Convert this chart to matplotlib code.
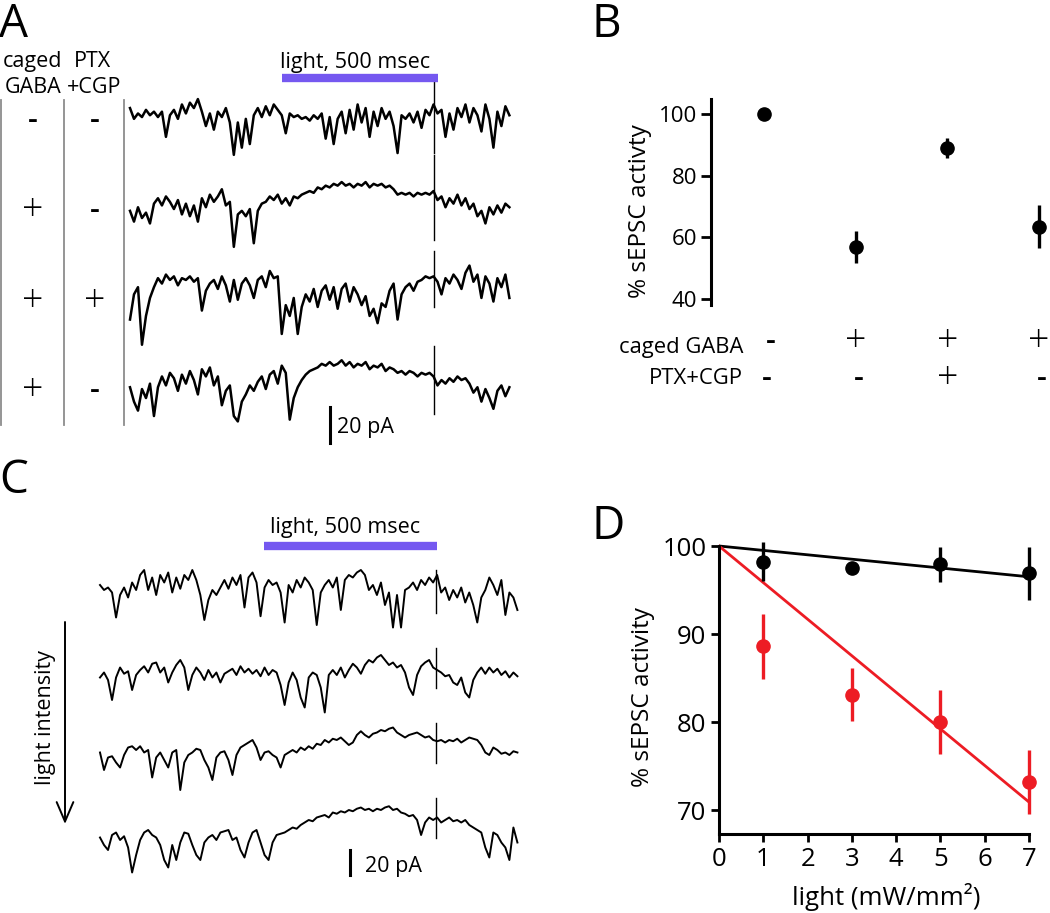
import numpy as np
import matplotlib.pyplot as plt
from matplotlib import transforms

plt.rcParams['font.family'] = ['Open Sans', 'DejaVu Sans']

# ---- data ----
# panel A: example sEPSC traces (pA, relative to each trace's baseline), one sample per ~12.8 ms
dt_a = 0.0128
trace_a_ctrl = [0, -6, -3, -5, -1, -4, -2, -5, -2, -16, -4, -1, -6, 2, -3, 3, 0, 5, -2, -10,
                -3, -12, -2, -5, 0, -8, -26, -8, -22, -6, -20, -4, 0, -5, 1, -4, 2, -1, -4, -14,
                -3, -5, -4, -6, -5, -7, -4, -6, -3, -17, -5, -20, -6, -2, -14, -1, -12, 2, -8, 0,
                -16, -2, -10, 0, -6, -2, -10, -25, -4, -6, -3, -8, -2, -11, -1, -4, 2, -3, -1, -16,
                -3, -12, 0, -5, 2, -8, 0, -4, -13, 2, -6, -22, -2, -10, 1, -4]
trace_a_gaba = [-6, -12, -4, -10, -7, -13, -2, 1, -3, 2, -1, -5, 0, -8, -2, -9, -3, -12, 1, -4,
                3, -1, 2, 6, -3, -1, -26, -8, -6, -9, -5, -24, -6, -2, -1, 2, 0, 3, -2, 1,
                -3, 2, 1, 3, 4, 5, 4, 7, 6, 8, 7, 9, 8, 10, 8, 9, 7, 9, 8, 10,
                7, 9, 8, 9, 7, 8, 6, 3, 4, 3, 4, 2, 4, 3, 4, 3, 5, 0, 2, -4,
                1, -2, 3, -3, 1, -5, -2, -9, -6, -13, -4, -8, -3, -7, -2, -4]
trace_a_ptx = [-22, -8, -4, -36, -20, -10, -4, 1, -2, 3, 0, 2, -3, 1, 0, 2, -1, 1, -17, -6,
               -2, 0, -5, 2, -3, -12, 0, -11, -2, 1, -3, -10, 0, 2, -4, 5, 1, 2, -30, -14,
               -20, -10, -30, -15, -8, -12, -5, -15, -6, -3, -11, -4, -16, -5, -2, -12, -4, -8, -14, -9,
               -20, -16, -24, -13, -15, -6, -2, -22, -8, -4, -2, -6, -1, 0, 2, 1, 2, -1, -8, 1,
               -2, 3, 0, -5, 4, 8, -1, 3, -10, 2, -2, -12, 1, -4, 3, -10]
trace_a_gaba2 = [-4, -12, -17, -5, -10, -2, -20, -4, 2, -3, 4, 1, -6, 3, -2, 5, 0, -8, 6, 2,
                 7, -3, 2, -14, -6, -3, -20, -23, -12, -8, -3, -6, -1, 2, -5, 3, 5, -2, 8, 4,
                 -22, -10, -4, 0, 3, 5, 6, 7, 9, 8, 10, 8, 9, 11, 8, 10, 7, 9, 8, 10,
                 6, 8, 7, 9, 5, 7, 6, 4, 5, 3, 5, 4, 2, 4, 3, 4, 2, -3, 0, -2,
                 1, -1, 2, 0, 1, -2, -7, -4, -12, -5, -10, -16, -6, -3, -9, -4]
traces_a = [trace_a_ctrl, trace_a_gaba, trace_a_ptx, trace_a_gaba2]
light_a = [0.487, 0.987]
artifact_a = 0.974
caged_a = ['-', '+', '+', '+']
ptx_a = ['-', '-', '+', '-']

# panel B
b_caged = ['-', '+', '+', '+']
b_ptx = ['-', '-', '+', '-']
b_mean = [100, 57, 89, 63.5]
b_err = [0.8, 5.2, 3.2, 7.0]

# panel C: traces at increasing light intensity, one sample per ~11.6 ms
dt_c = 0.0116
trace_c1 = [0, -4, -2, -6, -26, -8, -2, -10, 2, -4, 8, 12, -4, 6, -8, 8, 2, 10, -6, 6,
            -3, 8, 4, 12, 4, -8, -28, -12, -4, -8, -2, 4, -3, 6, 0, 8, -18, 6, 10, 2,
            -25, -2, 4, 0, 2, -6, -30, 0, -6, 4, -2, 6, 2, -4, -32, -6, 0, 4, -2, 6,
            -20, 4, 8, 6, 10, 12, 8, -4, 0, -8, 2, -16, -6, -34, -8, -34, -4, -2, 2, -4,
            4, 0, 6, 2, 8, -6, -2, -12, -4, -10, -2, -14, -6, -16, -30, -10, -4, 6, 0, -8,
            4, -24, -6, -10, -20]
trace_c2 = [-6, -2, -8, -24, -6, 2, -3, -1, -16, -4, 0, 3, -2, 5, 6, -2, 2, -10, -2, 4,
            8, 2, -16, -4, 2, -2, -8, 0, -6, -2, -10, -3, -1, 1, -4, 3, -2, 1, -3, 0,
            -5, 2, -4, 0, -2, -12, -28, -10, -2, -8, -22, -30, -6, -2, -4, -14, -34, -4, 0, -4,
            2, -6, 0, 5, 2, -3, 4, 8, 6, 10, 12, 8, 4, 6, 2, 4, -2, -14, -20, -4,
            3, 6, 8, 2, 0, -2, -5, -4, -10, -12, -6, -18, -22, -8, -2, 2, -3, 2, -2, 1,
            -4, -1, -6, -2, -5]
trace_c3 = [-2, -16, -6, -5, -10, -14, -4, 2, 3, 0, 3, -2, 0, -22, -6, -2, -8, -14, -2, 0,
            -32, -10, -4, -2, 1, 0, -8, -14, -24, -6, -2, -1, -8, -20, -4, 2, 4, 6, 8, 2,
            -8, -2, -1, -4, -6, -14, -4, -2, 0, -2, 2, 0, 3, 1, 5, 4, 8, 6, 9, 8,
            10, 7, 4, 6, 12, 15, 12, 10, 13, 14, 16, 15, 17, 18, 14, 12, 10, 12, 13, 14,
            12, 10, 11, 8, 7, 8, 6, 8, 7, 9, 6, 8, 10, 9, 8, 4, -2, -4, 2, 0,
            -3, -2, -4, -1, -2]
trace_c4 = [-2, -8, -12, 0, 2, -4, -1, -10, -30, -16, -4, 2, 4, 0, -2, -8, -20, -26, -8, -20,
            -6, 2, 1, -8, -16, -20, -6, -2, 0, -4, 2, 3, 4, -4, -2, -12, -18, -6, 2, 4,
            -6, -16, -20, -6, 0, 1, 2, 4, 6, 5, 8, 10, 12, 11, 14, 15, 16, 14, 18, 17,
            19, 18, 20, 19, 21, 22, 20, 21, 19, 21, 20, 22, 23, 20, 21, 18, 17, 15, 16, 12,
            0, 10, 14, 12, 14, 10, 12, 14, 11, 12, 10, 12, 8, 6, 4, 2, -10, -18, 2, 0,
            -6, -10, -20, 6, -6]
traces_c = [trace_c1, trace_c2, trace_c3, trace_c4]
light_c = [0.474, 0.974]
artifact_c = 0.971

# panel D
light_power = [1, 3, 5, 7]
saline_mean = [98.2, 97.5, 97.9, 96.9]
saline_err = [2.2, 0.0, 2.0, 3.0]
caged_mean = [88.6, 83.1, 80.0, 73.2]
caged_err = [3.7, 3.0, 3.6, 3.6]
fit_x = [0, 7]
saline_fit = [100, 96.5]
caged_fit = [100, 70.9]

# ---- layout ----
W, H = 1050, 913
fig = plt.figure(figsize=(W / 100, H / 100), dpi=100)
RED = '#ED1C24'
PURPLE = '#7558F0'


def box(x0, y0, x1, y1):
    return fig.add_axes([x0 / W, 1 - y1 / H, (x1 - x0) / W, (y1 - y0) / H])


def sign(x, y, s, **kw):
    # plus signs in the table are big and thin, minus signs are short dashes
    if s == '+':
        ov.text(x, y, s, fontsize=27, ha='center', va='center', fontweight='light', **kw)
    else:
        ov.text(x, y, s, fontsize=22, ha='center', va='center', fontweight='semibold', **kw)


ov = fig.add_axes([0, 0, 1, 1])
ov.set_xlim(0, W)
ov.set_ylim(H, 0)
ov.axis('off')

# panel letters
ov.text(-1, 37, 'A', fontsize=33, va='baseline', ha='left')
ov.text(591, 37, 'B', fontsize=33, va='baseline', ha='left')
ov.text(-1, 493, 'C', fontsize=33, va='baseline', ha='left')
ov.text(591, 539, 'D', fontsize=33, va='baseline', ha='left')

# ---- A ----
fs = 15.5
ov.text(33, 67, 'caged', fontsize=fs, ha='center', va='baseline')
ov.text(33, 93, 'GABA', fontsize=fs, ha='center', va='baseline')
ov.text(92, 67, 'PTX', fontsize=fs, ha='center', va='baseline')
ov.text(94, 93, '+CGP', fontsize=fs, ha='center', va='baseline')
for xs in [1, 64, 124]:
    ov.plot([xs, xs], [100, 425], color='#8c8c8c', lw=1.3)
rows_a = [121, 211, 302, 391]
for yr, c, p in zip(rows_a, caged_a, ptx_a):
    sign(33, yr, c)
    sign(95, yr, p)

axA = box(130, 60, 512, 450)
axA.set_xlim(0, 382 / 312)
axA.set_ylim(-390 / 1.8, 0)
axA.axis('off')
offs_a = [-26.7, -77.8, -122.2, -177.8]
art_a = [(17, -25), (25, -22), (16, -15), (19, -19)]
for tr, off, (up, dn) in zip(traces_a, offs_a, art_a):
    t = np.arange(len(tr)) * dt_a
    axA.plot(t, np.array(tr) + off, color='k', lw=1.8, clip_on=False)
    axA.plot([artifact_a, artifact_a], [off + up, off + dn], color='k', lw=1.0)
axA.plot(light_a, [-10, -10], color=PURPLE, lw=6, solid_capstyle='butt')
axA.text(np.mean(light_a) - 0.015, -4.5, 'light, 500 msec', fontsize=fs, ha='center', va='baseline')
axA.plot([0.641, 0.641], [-192.8, -212.8], color='k', lw=2.2, clip_on=False)
ov.text(337, 433, '20 pA', fontsize=fs, ha='left', va='baseline')

# ---- B ----
axB = box(711, 99, 1050, 305)
xb = np.arange(len(b_mean))
axB.errorbar(xb, b_mean, yerr=b_err, fmt='o', color='k', ms=9.5, elinewidth=2.4,
             capsize=0, clip_on=False)
axB.set_xlim(-0.578, 3.12)
axB.set_ylim(38.05, 104.9)
axB.set_yticks([40, 60, 80, 100])
for s in ['top', 'right', 'bottom']:
    axB.spines[s].set_visible(False)
axB.spines['left'].set_linewidth(2.2)
axB.tick_params(axis='y', direction='out', length=7, width=2, labelsize=16, pad=3)
axB.set_xticks([])
ov.text(640, 211, '% sEPSC activty', fontsize=17.5, rotation=90, ha='center', va='center')
ov.text(743, 347, 'caged GABA', fontsize=15.8, ha='right', va='center')
ov.text(743, 378, 'PTX+CGP', fontsize=15.8, ha='right', va='center')
tb = transforms.blended_transform_factory(axB.transData, ov.transData)
for xi, c, p in zip(xb, b_caged, b_ptx):
    sign(xi + 0.07 * (c == '-'), 342, c, transform=tb)
    sign(xi + 0.03 * (p == '-'), 379, p, transform=tb)

# ---- C ----
axC = box(100, 500, 520, 890)
axC.set_xlim(0, 420 / 346)
axC.set_ylim(-390 / 1.25, 0)
axC.axis('off')
offs_c = [-68, -136, -200, -268]
art_c = [(12, -22), (18, -14), (22, -10), (30, -2)]
for tr, off, (up, dn) in zip(traces_c, offs_c, art_c):
    t = np.arange(len(tr)) * dt_c
    axC.plot(t, np.array(tr) + off, color='k', lw=1.4, clip_on=False)
    axC.plot([artifact_c, artifact_c], [off + up, off + dn], color='k', lw=1.0)
axC.plot(light_c, [-36.8, -36.8], color=PURPLE, lw=6, solid_capstyle='butt')
axC.text(np.mean(light_c) - 0.015, -26.5, 'light, 500 msec', fontsize=fs, ha='center', va='baseline')
axC.plot([0.7225, 0.7225], [-280, -300], color='k', lw=2.2, clip_on=False)
ov.text(365, 872, '20 pA', fontsize=fs, ha='left', va='baseline')
ov.annotate('', xy=(65, 824), xytext=(65, 622),
            arrowprops=dict(arrowstyle='->,head_length=0.7,head_width=0.3', lw=1.4,
                            color='k', mutation_scale=20, shrinkA=0, shrinkB=0))
ov.text(46, 718, 'light intensity', fontsize=fs, rotation=90, ha='center', va='center')

# ---- D ----
axD = box(719, 530, 1050, 834)
axD.plot(fit_x, saline_fit, color='k', lw=2)
axD.plot(fit_x, caged_fit, color=RED, lw=2)
axD.errorbar(light_power, saline_mean, yerr=saline_err, fmt='o', color='k', ms=9.5,
             elinewidth=2.4, capsize=0, clip_on=False)
axD.errorbar(light_power, caged_mean, yerr=caged_err, fmt='o', color=RED, ms=9.5,
             elinewidth=2.4, capsize=0, clip_on=False)
axD.set_xlim(0, 331 / 44.29)
axD.set_ylim(70 - 24 / 8.8, 100 + 16 / 8.8)
axD.set_xticks(range(8))
axD.set_yticks([70, 80, 90, 100])
for s in ['top', 'right']:
    axD.spines[s].set_visible(False)
axD.spines['left'].set_bounds(70 - 24 / 8.8, 100)
axD.spines['bottom'].set_bounds(0, 7)
axD.spines['left'].set_linewidth(2.2)
axD.spines['bottom'].set_linewidth(2.2)
axD.tick_params(direction='out', length=6, width=2, labelsize=18.5, pad=3)
ov.text(643, 697, '% sEPSC activity', fontsize=17.5, rotation=90, ha='center', va='center')
ov.text(886, 897, 'light (mW/mm²)', fontsize=18.5, ha='center', va='center')
ov.text(737, 780, 'saline', fontsize=17.5, ha='left', va='center', color='k')
ov.text(737, 807, 'caged GABA', fontsize=17.5, ha='left', va='center', color=RED)

fig.savefig('out.png', dpi=100)
